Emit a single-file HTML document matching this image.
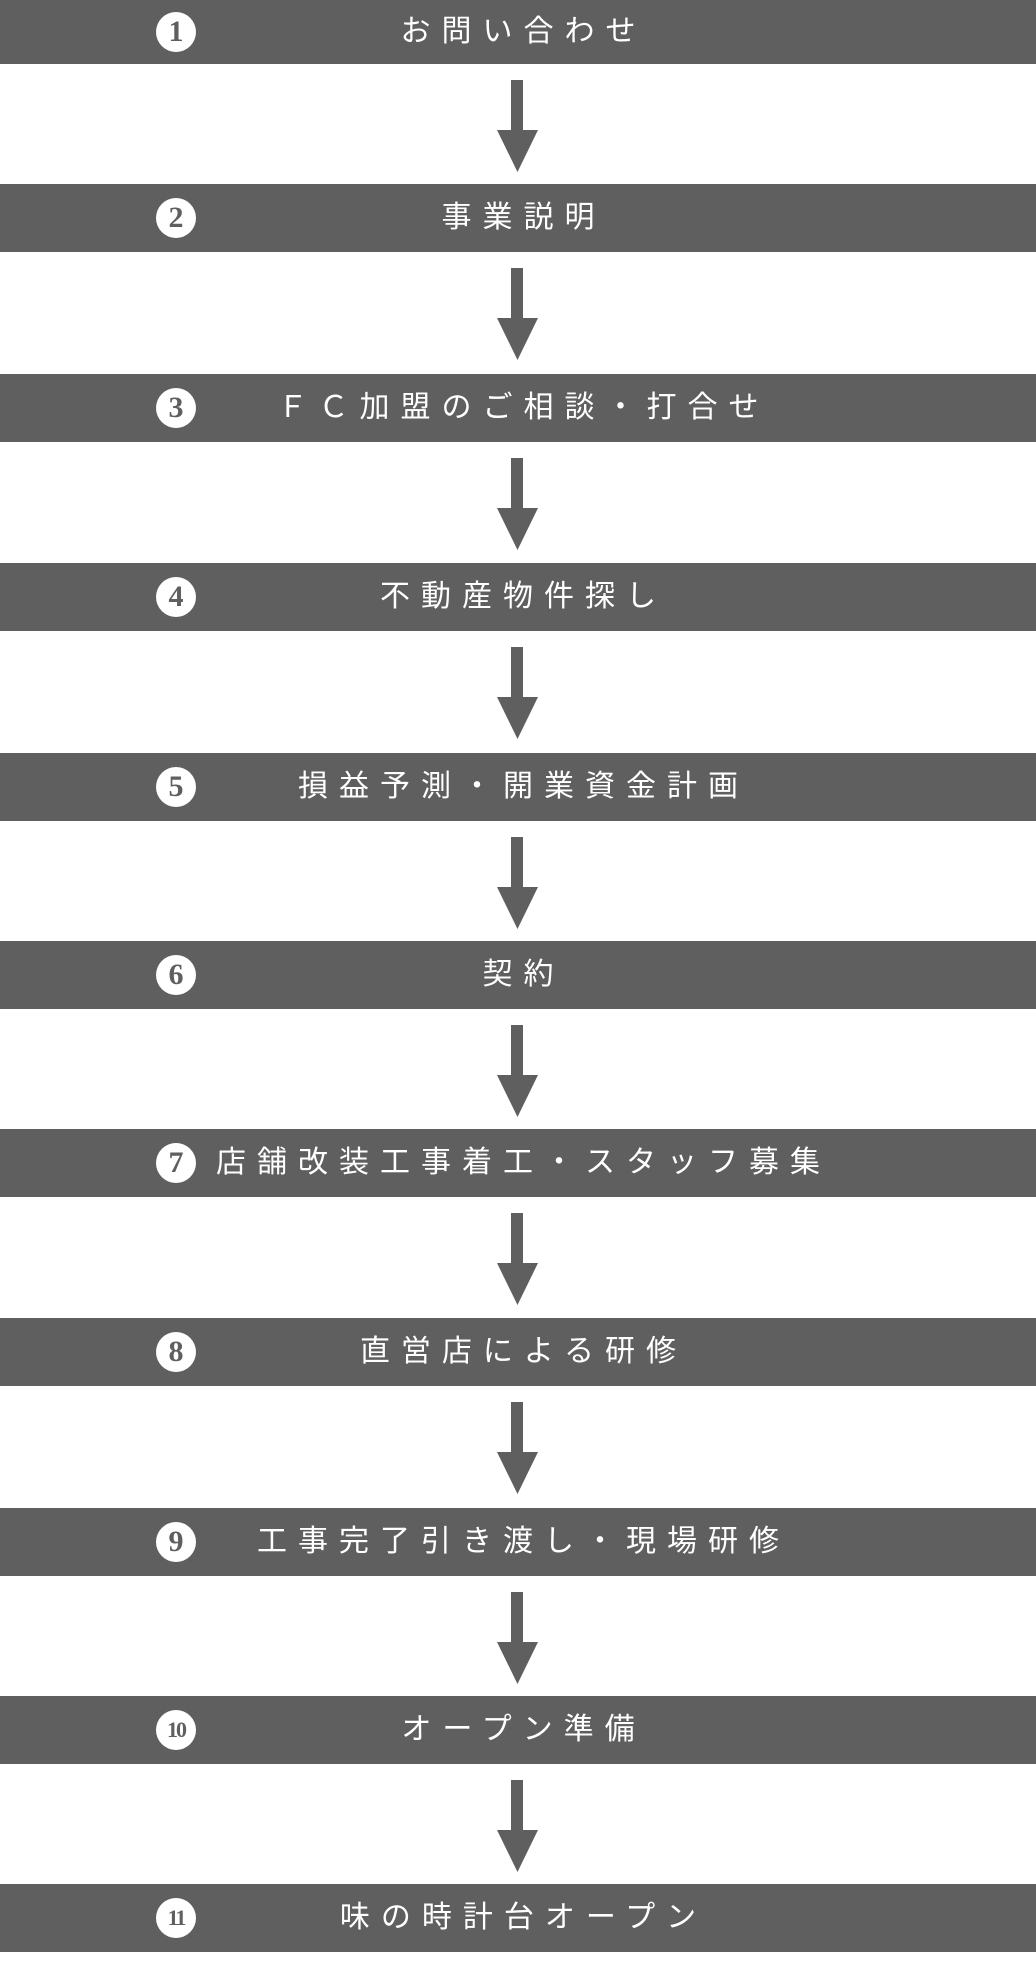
<!DOCTYPE html>
<html><head><meta charset="utf-8"><style>
html,body{margin:0;padding:0;background:#fff;}
body{width:1036px;height:1966px;position:relative;overflow:hidden;font-family:"Liberation Sans","Noto Sans CJK JP",sans-serif;}
.bar{position:absolute;left:0;width:1036px;height:68px;background:#5f5f5f;}
.t{position:absolute;left:0;right:0;top:50%;transform:translateY(-50%);text-align:center;color:#fff;font-size:30px;letter-spacing:11px;padding-left:11px;line-height:1;}
.c{position:absolute;left:156px;top:50%;width:40px;height:40px;margin-top:-20px;border-radius:50%;background:#fff;color:#5f5f5f;font-family:"Liberation Serif",serif;font-weight:bold;font-size:30px;line-height:40px;text-align:center;}
.c.s{font-size:22px;letter-spacing:-2px;}
.a{position:absolute;left:497px;width:41px;height:92px;}
</style></head><body>
<div class="bar" style="top:0;height:64px"><div class="c">1</div><div class="t">お問い合わせ</div></div>
<svg class="a" style="top:80px" viewBox="0 0 41 92"><rect x="14" y="0" width="12" height="51" fill="#5f5f5f"/><polygon points="0,50 41,50 20.5,92" fill="#5f5f5f"/></svg>
<div class="bar" style="top:184px"><div class="c">2</div><div class="t">事業説明</div></div>
<svg class="a" style="top:268px" viewBox="0 0 41 92"><rect x="14" y="0" width="12" height="51" fill="#5f5f5f"/><polygon points="0,50 41,50 20.5,92" fill="#5f5f5f"/></svg>
<div class="bar" style="top:374px"><div class="c">3</div><div class="t">ＦＣ加盟のご相談・打合せ</div></div>
<svg class="a" style="top:458px" viewBox="0 0 41 92"><rect x="14" y="0" width="12" height="51" fill="#5f5f5f"/><polygon points="0,50 41,50 20.5,92" fill="#5f5f5f"/></svg>
<div class="bar" style="top:563px"><div class="c">4</div><div class="t">不動産物件探し</div></div>
<svg class="a" style="top:647px" viewBox="0 0 41 92"><rect x="14" y="0" width="12" height="51" fill="#5f5f5f"/><polygon points="0,50 41,50 20.5,92" fill="#5f5f5f"/></svg>
<div class="bar" style="top:753px"><div class="c">5</div><div class="t">損益予測・開業資金計画</div></div>
<svg class="a" style="top:837px" viewBox="0 0 41 92"><rect x="14" y="0" width="12" height="51" fill="#5f5f5f"/><polygon points="0,50 41,50 20.5,92" fill="#5f5f5f"/></svg>
<div class="bar" style="top:941px"><div class="c">6</div><div class="t">契約</div></div>
<svg class="a" style="top:1025px" viewBox="0 0 41 92"><rect x="14" y="0" width="12" height="51" fill="#5f5f5f"/><polygon points="0,50 41,50 20.5,92" fill="#5f5f5f"/></svg>
<div class="bar" style="top:1129px"><div class="c">7</div><div class="t">店舗改装工事着工・スタッフ募集</div></div>
<svg class="a" style="top:1213px" viewBox="0 0 41 92"><rect x="14" y="0" width="12" height="51" fill="#5f5f5f"/><polygon points="0,50 41,50 20.5,92" fill="#5f5f5f"/></svg>
<div class="bar" style="top:1318px"><div class="c">8</div><div class="t">直営店による研修</div></div>
<svg class="a" style="top:1402px" viewBox="0 0 41 92"><rect x="14" y="0" width="12" height="51" fill="#5f5f5f"/><polygon points="0,50 41,50 20.5,92" fill="#5f5f5f"/></svg>
<div class="bar" style="top:1508px"><div class="c">9</div><div class="t">工事完了引き渡し・現場研修</div></div>
<svg class="a" style="top:1592px" viewBox="0 0 41 92"><rect x="14" y="0" width="12" height="51" fill="#5f5f5f"/><polygon points="0,50 41,50 20.5,92" fill="#5f5f5f"/></svg>
<div class="bar" style="top:1696px"><div class="c s">10</div><div class="t">オープン準備</div></div>
<svg class="a" style="top:1780px" viewBox="0 0 41 92"><rect x="14" y="0" width="12" height="51" fill="#5f5f5f"/><polygon points="0,50 41,50 20.5,92" fill="#5f5f5f"/></svg>
<div class="bar" style="top:1884px"><div class="c s">11</div><div class="t">味の時計台オープン</div></div>
</body></html>
